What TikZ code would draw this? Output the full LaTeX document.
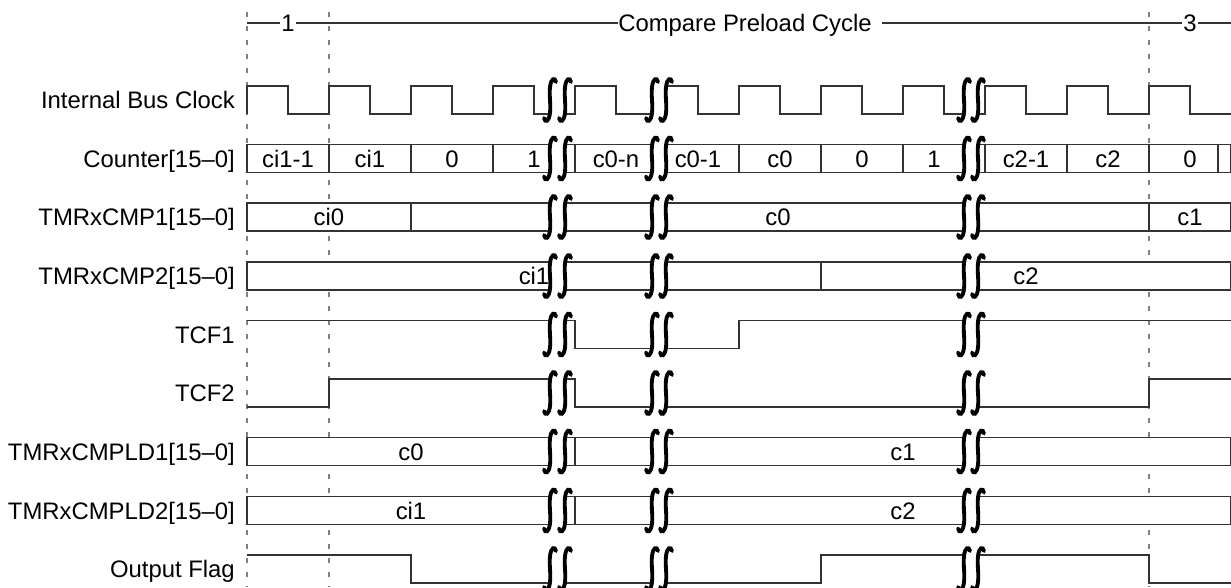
\documentclass[tikz,border=0pt]{standalone}
\usepackage{fontspec}
\setmainfont{Liberation Sans}
\usetikzlibrary{positioning}
\definecolor{wavegray}{HTML}{333333}
\definecolor{gridgray}{HTML}{808080}
\newcommand{\sigfont}{\fontsize{17.9}{21}\selectfont}
% one bold break stroke at x=#1 on a row centred at y=#2
\newcommand{\brkS}[2]{\draw[brk] (#1+6,#2-18) .. controls (#1+5,#2-23) and (#1+1,#2-22) .. (#1,#2-13) .. controls (#1-1,#2-4) and (#1+1,#2+4) .. (#1,#2+13) .. controls (#1-1,#2+22) and (#1-5,#2+23) .. (#1-6,#2+18);}
\newcommand{\wavebrk}[3]{\fill[white] (#1+1,#3-16) -- (#2+1,#3-16) -- (#2-1,#3+16) -- (#1-1,#3+16) -- cycle; \brkS{#1}{#3}\brkS{#2}{#3}}
\newcommand{\rowbrk}[1]{\wavebrk{550}{565}{#1}\wavebrk{652}{666}{#1}\wavebrk{964}{978}{#1}}

\begin{document}
\begin{tikzpicture}[x=0.75pt, y=-0.75pt,
    wave/.style={draw=wavegray, line width=0.9pt},
    bus/.style={draw=wavegray, line width=0.9pt, fill=white},
    grid/.style={draw=gridgray, line width=0.9pt, dash pattern=on 4pt off 6.5pt},
    lbl/.style={anchor=east, inner sep=0pt, font=\sigfont, text height=12.8pt, text depth=0pt},
    val/.style={inner sep=0pt, font=\sigfont, text height=12.8pt, text depth=0pt},
    hdr/.style={fill=white, inner sep=1pt, font=\sigfont, text height=12.8pt, text depth=0pt},
    brk/.style={draw=black, line width=2.9pt, line cap=round}]
  \useasboundingbox (0,0) rectangle (1231,587);
  % phase markers
  \draw[grid] (247,12) -- (247,587);
  \draw[grid] (329,12) -- (329,587);
  \draw[grid] (1149,12) -- (1149,587);
  \draw[wave, line width=0.8pt] (247,23) -- (1231,23);
  \node[hdr] (ph1) at (288,23) {1};
  \node[hdr, anchor=west, inner sep=0pt] (ph2) at (618,23) {Compare Preload Cycle\hspace*{8pt}};
  \node[hdr] (ph3) at (1190,23) {3};
  % signal names
  \node[lbl] (lclk)  at (235,100)   {Internal Bus Clock};
  \node[lbl] (lcnt)  at (235,158.5) {Counter[15–0]};
  \node[lbl] (lcmp1) at (235,217)   {TMRxCMP1[15–0]};
  \node[lbl] (lcmp2) at (235,276)   {TMRxCMP2[15–0]};
  \node[lbl] (ltcf1) at (235,334.5) {TCF1};
  \node[lbl] (ltcf2) at (235,393)   {TCF2};
  \node[lbl] (lld1)  at (235,451.5) {TMRxCMPLD1[15–0]};
  \node[lbl] (lld2)  at (235,510.5) {TMRxCMPLD2[15–0]};
  \node[lbl] (lout)  at (235,569)   {Output Flag};
  % clock
  \draw[wave] (247,114) |- (288,86) |- (329,114) |- (370,86) |- (411,114) |- (452,86) |- (493,114) |- (534,86) |- (575,114) |- (616,86) |- (657,114) |- (698,86) |- (739,114) |- (780,86) |- (821,114) |- (862,86) |- (903,114) |- (944,86) |- (985,114) |- (1026,86) |- (1067,114) |- (1108,86) |- (1149,114) |- (1190,86) |- (1231,114);
  \rowbrk{100}
  % counter
  \draw[bus] (247,144.5) rectangle (1230.5,172.5);
  \draw[wave] (329,144.5) -- ++(0,28) (411,144.5) -- ++(0,28) (493,144.5) -- ++(0,28) (575,144.5) -- ++(0,28) (657,144.5) -- ++(0,28) (739,144.5) -- ++(0,28) (821,144.5) -- ++(0,28) (903,144.5) -- ++(0,28) (985,144.5) -- ++(0,28) (1067,144.5) -- ++(0,28) (1149,144.5) -- ++(0,28) (1218,144.5) -- ++(0,28);
  \node[val] (cnt1)  at (288,158.5)  {ci1-1};
  \node[val] (cnt2)  at (370,158.5)  {ci1};
  \node[val] (cnt3)  at (452,158.5)  {0};
  \node[val] (cnt4)  at (534,158.5)  {1};
  \node[val] (cnt5)  at (616,158.5)  {c0-n};
  \node[val] (cnt6)  at (698,158.5)  {c0-1};
  \node[val] (cnt7)  at (780,158.5)  {c0};
  \node[val] (cnt8)  at (862,158.5)  {0};
  \node[val] (cnt9)  at (934,158.5)  {1};
  \node[val] (cnt10) at (1026,158.5) {c2-1};
  \node[val] (cnt11) at (1108,158.5) {c2};
  \node[val] (cnt12) at (1190,158.5) {0};
  \rowbrk{158.5}
  % compare registers
  \draw[bus] (247,203) rectangle (1230.5,231);
  \draw[wave] (411,203) -- ++(0,28) (1149,203) -- ++(0,28);
  \node[val] (cmpa1) at (329,217)  {ci0};
  \node[val] (cmpa2) at (778,217)  {c0};
  \node[val] (cmpa3) at (1190,217) {c1};
  \rowbrk{217}
  \draw[bus] (247,262) rectangle (1230.5,290);
  \draw[wave] (821,262) -- ++(0,28);
  \node[val] (cmpb1) at (534,276)  {ci1};
  \node[val] (cmpb2) at (1026,276) {c2};
  \rowbrk{276}
  % flags
  \draw[wave] (247,320.5) -| (575,348.5) -| (739,320.5) -- (1231,320.5);
  \rowbrk{334.5}
  \draw[wave] (247,407) -| (329,379) -| (575,407) -| (1149,379) -- (1231,379);
  \rowbrk{393}
  % preload registers
  \draw[bus] (247,437.5) rectangle (1230.5,465.5);
  \draw[wave] (575,437.5) -- ++(0,28);
  \node[val] (lda1) at (411,451.5) {c0};
  \node[val] (lda2) at (903,451.5) {c1};
  \rowbrk{451.5}
  \draw[bus] (247,496.5) rectangle (1230.5,524.5);
  \draw[wave] (575,496.5) -- ++(0,28);
  \node[val] (ldb1) at (411,510.5) {ci1};
  \node[val] (ldb2) at (903,510.5) {c2};
  \rowbrk{510.5}
  % output
  \draw[wave] (247,555) -| (411,583) -| (821,555) -| (1149,583) -- (1231,583);
  \rowbrk{569}
\end{tikzpicture}
\end{document}
